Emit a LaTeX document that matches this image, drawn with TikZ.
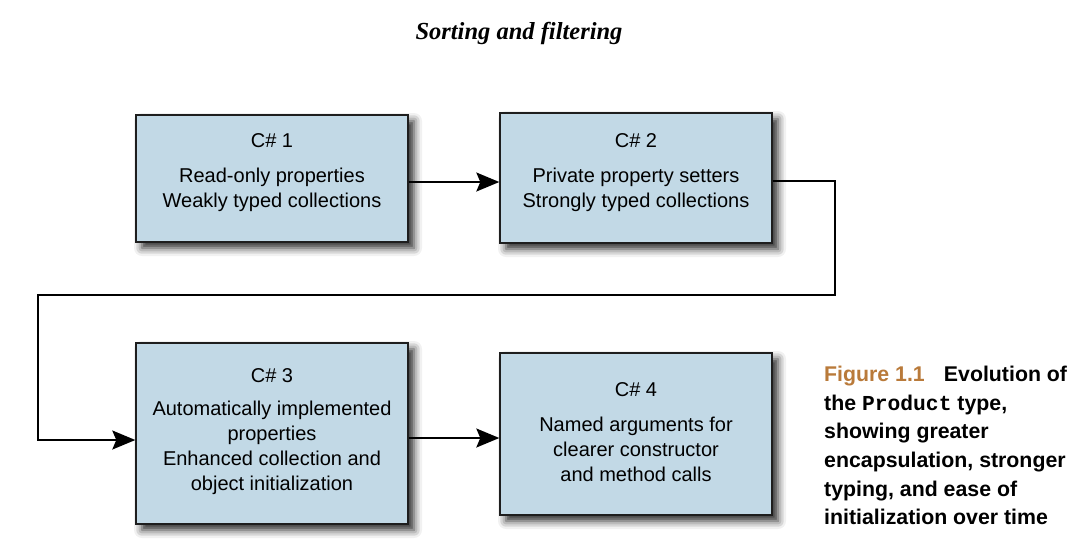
\documentclass[tikz,border=0pt]{standalone}
\usepackage{fontspec}
\setmainfont{Liberation Sans}
\setmonofont{Liberation Mono}
\newfontfamily\titlefont{Liberation Serif}
\usetikzlibrary{arrows.meta,shadows.blur}
\definecolor{boxblue}{RGB}{194,217,230}
\definecolor{boxline}{RGB}{30,30,30}
\definecolor{figbrown}{RGB}{185,122,58}
\tikzset{
  verbox/.style={draw=boxline, line width=1.4pt, fill=boxblue, inner sep=0pt,
    blur shadow={shadow xshift=6pt, shadow yshift=-6pt, shadow blur radius=8pt, shadow opacity=85}},
  boxtext/.style={align=center, inner sep=0pt, font=\fontsize{20}{25}\selectfont},
  conn/.style={line width=1.8pt, -{Stealth[length=23pt,width=19pt,inset=4pt]}},
}
\begin{document}
\begin{tikzpicture}[x=1pt,y=-1pt]
\useasboundingbox (0,0) rectangle (1083,547);
\node[font=\titlefont\bfseries\itshape\fontsize{24.5}{28}\selectfont] (title) at (519,33) {Sorting and filtering};
% boxes
\node[verbox, minimum width=272pt, minimum height=127pt] (b1) at (272,178.5) {};
\node[verbox, minimum width=272pt, minimum height=130pt] (b2) at (636,178) {};
\node[verbox, minimum width=272pt, minimum height=181pt] (b3) at (272,433.5) {};
\node[verbox, minimum width=272pt, minimum height=162pt] (b4) at (636,434) {};
% texts
\node[boxtext] (t1) at (272,173) {C\# 1\\[10pt]Read-only properties\\Weakly typed collections};
\node[boxtext] (t2) at (636,173) {C\# 2\\[10pt]Private property setters\\Strongly typed collections};
\node[boxtext] (t3) at (272,432) {C\# 3\\[8pt]Automatically implemented\\properties\\Enhanced collection and\\object initialization};
\node[boxtext] (t4) at (636,432) {C\# 4\\[10pt]Named arguments for\\clearer constructor\\and method calls};
% connectors
\coordinate (r2) at (835,295);
\coordinate (l3) at (38,295);
\draw[conn] ([yshift=-3.5pt]b1.east) -- ([yshift=-3.5pt]b1.east -| b2.west);
\draw[conn] ([yshift=-3pt]b2.east) -| (r2) -- (l3) |- ([yshift=-6.5pt]b3.west);
\draw[conn] ([yshift=-4.5pt]b3.east) -- ([yshift=-4.5pt]b3.east -| b4.west);
% caption
\node[anchor=north west, inner sep=0pt, align=left, font=\bfseries\fontsize{21.3}{28.6}\selectfont] (cap) at (824,366)
{{\color{figbrown}Figure 1.1}\hspace{0.9em}Evolution of\\the \texttt{Product} type,\\showing greater\\encapsulation, stronger\\typing, and ease of\\initialization over time};
\end{tikzpicture}
\end{document}
